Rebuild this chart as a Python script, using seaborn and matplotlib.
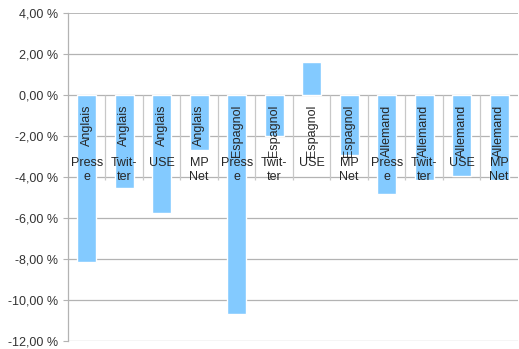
import numpy as np
import pandas as pd
import matplotlib.pyplot as plt
import seaborn as sns
import matplotlib.ticker as ticker

# data (in %)
langues = ['Anglais'] * 4 + ['Espagnol'] * 4 + ['Allemand'] * 4
medias = ['Presse', 'Twitter', 'USE', 'MP Net'] * 3
medias_affiche = ['Press\ne', 'Twit-\nter', 'USE', 'MP\nNet'] * 3
valeurs = [-8.16, -4.56, -5.77, -2.66,
           -10.68, -1.99, 1.62, -2.93,
           -4.85, -4.15, -3.96, -4.15]
y_ticks = [-12, -10, -8, -6, -4, -2, 0, 2, 4]

df = pd.DataFrame({'langue': langues, 'media': medias, 'valeur': valeurs})
df['cat'] = [f'{l} {m}' for l, m in zip(langues, medias)]

sns.set_style('white')
plt.rcParams['font.family'] = ['Liberation Sans', 'DejaVu Sans']

fig = plt.figure(figsize=(5.19, 3.49), dpi=100)
ax = fig.add_axes([0.131, 0.0229, 0.867, 0.94])

sns.barplot(data=df, x='cat', y='valeur', color='#83caff', width=0.51,
            saturation=1, ax=ax, zorder=3)

ax.set_ylim(-12, 4)
ax.set_xlim(-0.5, len(valeurs) - 0.5)
ax.set_yticks(y_ticks)
ax.yaxis.set_major_formatter(ticker.FuncFormatter(
    lambda v, p: '{:.2f} %'.format(v).replace('.', ',')))
ax.tick_params(axis='y', length=3.6, width=0.8, color='#b3b3b3', pad=3.5,
               labelsize=9, labelcolor='#333333', left=True)
ax.set_xticks([])
ax.set_xlabel('')
ax.set_ylabel('')

# horizontal grid
for v in y_ticks:
    ax.axhline(v, color='#b3b3b3', lw=1.3 if v == 4 else 0.9, zorder=1)

for s in ['top', 'right', 'bottom']:
    ax.spines[s].set_visible(False)
ax.spines['left'].set_color('#b3b3b3')
ax.spines['left'].set_linewidth(0.9)

# separators between categories
ax.vlines(np.arange(len(valeurs) - 1) + 0.5, -4.15, 0, color='#c8c8c8',
          lw=0.9, zorder=2)

# two level category labels under the zero line
for i, (l, m) in enumerate(zip(langues, medias_affiche)):
    ax.annotate(l, (i, 0), xytext=(0, -7), textcoords='offset points',
                rotation=90, ha='center', va='top', fontsize=9, zorder=4)
    ax.annotate(m, (i, 0), xytext=(0, -45), textcoords='offset points',
                ha='center', va='top', fontsize=9, linespacing=1.15, zorder=4)

fig.savefig('out.png', dpi=100)
